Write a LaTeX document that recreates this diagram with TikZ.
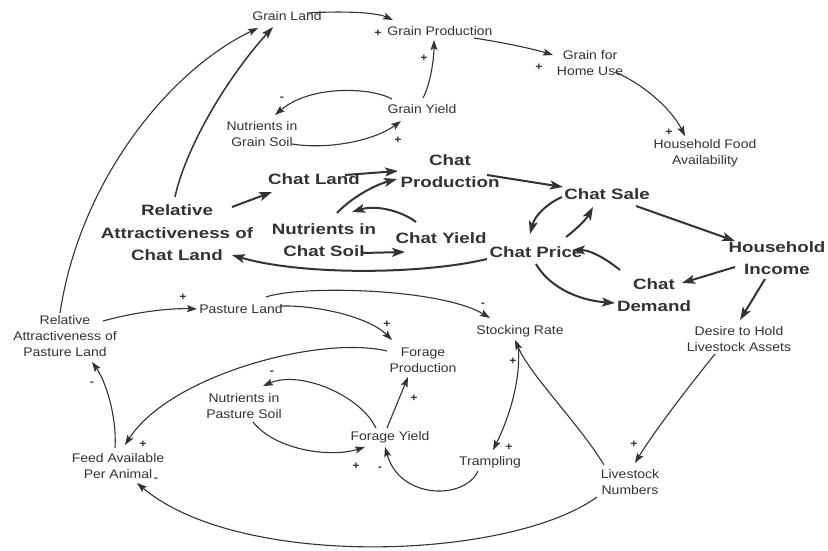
\documentclass[tikz,border=0pt]{standalone}
\usepackage{fontspec}
\setmainfont{Liberation Sans}
\newfontfamily\smf[FakeStretch=1.12]{Liberation Sans}
\newfontfamily\bgf[FakeStretch=1.25]{Liberation Sans}
\usetikzlibrary{arrows.meta,calc}
\definecolor{ink}{HTML}{333333}
\tikzset{
  sm/.style={font=\smf\fontsize{12.5}{16}\selectfont, align=center, text=ink, inner sep=0pt},
  bg/.style={font=\bgf\bfseries\fontsize{15}{22.5}\selectfont, align=center, text=ink, inner sep=0pt},
  sg/.style={font=\smf\bfseries\fontsize{11}{11}\selectfont, text=ink, inner sep=0pt},
  tarr/.style={draw=ink, line width=1.1pt, -{Stealth[length=10pt,width=7pt,inset=2pt]}},
  marr/.style={draw=ink, line width=1.5pt, -{Stealth[length=12pt,width=8pt,inset=2.5pt]}},
  barr/.style={draw=ink, line width=2pt, -{Stealth[length=13pt,width=9pt,inset=3pt]}},
}
\begin{document}
\begin{tikzpicture}[x=1pt,y=-1pt]
\useasboundingbox[fill=white] (0,0) rectangle (828,550);
% nodes
\node[sm] (gland) at (287,16) {Grain Land};
\node[sm] (gprod) at (440,31) {Grain Production};
\node[sm] (gfor) at (590,63) {Grain for\\Home Use};
\node[sm] (hfa) at (705,153) {Household Food\\Availability};
\node[sm] (gyield) at (422,109) {Grain Yield};
\node[sm] (ngs) at (262,134) {Nutrients in\\Grain Soil};
\node[bg] (cland) at (314,179) {Chat Land};
\node[bg] (cprod) at (450,171) {Chat\\Production};
\node[bg] (csale) at (607,194) {Chat Sale};
\node[bg] (racl) at (177,233) {Relative\\Attractiveness of\\Chat Land};
\node[bg] (ncs) at (324,240) {Nutrients in\\Chat Soil};
\node[bg] (cyield) at (441,238) {Chat Yield};
\node[bg] (cprice) at (536,252) {Chat Price};
\node[bg] (hinc) at (777,258) {Household\\Income};
\node[bg] (cdem) at (654,295) {Chat\\Demand};
\node[sm] (rapl) at (65,336) {Relative\\Attractiveness of\\Pasture Land};
\node[sm] (pland) at (241,309) {Pasture Land};
\node[sm] (srate) at (520,331) {Stocking Rate};
\node[sm] (fprod) at (423,360) {Forage\\Production};
\node[sm] (desire) at (739,339) {Desire to Hold\\Livestock Assets};
\node[sm] (nps) at (244,406) {Nutrients in\\Pasture Soil};
\node[sm] (fyield) at (390,437) {Forage Yield};
\node[sm] (feed) at (118,466) {Feed Available\\Per Animal};
\node[sm] (tramp) at (490,462) {Trampling};
\node[sm] (lnum) at (630,482) {Livestock\\Numbers};
% signs
\node[sg] (s1) at (378,33) {+};
\node[sg] (s2) at (424,58) {+};
\node[sg] (s3) at (282,99) {-};
\node[sg] (s4) at (398,140) {+};
\node[sg] (s5) at (539,67) {+};
\node[sg] (s6) at (669,132) {+};
\node[sg] (s7) at (183,297) {+};
\node[sg] (s8) at (92,384) {-};
\node[sg] (s9) at (272,373) {-};
\node[sg] (s10) at (143,444) {+};
\node[sg] (s11) at (156,480) {-};
\node[sg] (s12) at (483,305) {-};
\node[sg] (s13) at (387,324) {+};
\node[sg] (s14) at (414,398) {+};
\node[sg] (s15) at (356,466) {+};
\node[sg] (s16) at (380,469) {-};
\node[sg] (s17) at (513,361) {+};
\node[sg] (s18) at (509,447) {+};
\node[sg] (s19) at (634,444) {+};
% connectors
\draw[tarr] ($(gland)+(20,-3)$) .. controls (340,11) and (375,12) .. ($(gprod)+(-47,-11)$);
\draw[tarr] ($(gprod)+(34,7)$) .. controls (500,42) and (530,48) .. ($(gfor)+(-37,-8)$);
\draw[tarr] ($(gfor)+(25,9)$) .. controls (645,85) and (672,110) .. ($(hfa)+(-20,-17)$);
\draw[tarr] ($(gyield)+(1,-11)$) .. controls (430,85) and (434,60) .. ($(gprod)+(-6,9)$);
\draw[tarr] ($(gyield)+(-30,-10)$) .. controls (370,87) and (310,85) .. ($(ngs)+(13,-19)$);
\draw[tarr] ($(ngs)+(30,10)$) .. controls (330,150) and (375,140) .. ($(gyield)+(-21,12)$);
\draw[tarr] ($(rapl)+(-5,-23)$) .. controls (80,180) and (170,70) .. ($(gland)+(-29,12)$);
\draw[marr] ($(racl)+(-2,-36)$) .. controls (185,150) and (225,80) .. ($(gland)+(-14,11)$);
\draw[barr] ($(racl)+(55,-26)$) -- ($(cland)+(-42,13)$);
\draw[barr] ($(cland)+(31,-4)$) -- ($(cprod)+(-52,0)$);
\draw[barr] ($(ncs)+(13,-27)$) .. controls (352,197) and (375,185) .. ($(cprod)+(-53,8)$);
\draw[barr] ($(cyield)+(-25,-16)$) .. controls (400,210) and (375,205) .. ($(ncs)+(28,-28)$);
\draw[barr] ($(ncs)+(38,13)$) -- ($(cyield)+(-36,14)$);
\draw[barr] ($(cprice)+(-49,7)$) .. controls (420,275) and (300,275) .. ($(racl)+(55,22)$);
\draw[barr] ($(cprod)+(37,4)$) -- ($(csale)+(-44,-7)$);
\draw[barr] ($(csale)+(-45,3)$) .. controls (548,203) and (535,215) .. ($(cprice)+(-6,-18)$);
\draw[barr] ($(cprice)+(30,-15)$) .. controls (578,228) and (587,218) .. ($(csale)+(-14,13)$);
\draw[barr] ($(csale)+(29,12)$) -- ($(hinc)+(-42,-17)$);
\draw[barr] ($(hinc)+(-42,9)$) -- ($(cdem)+(28,-12)$);
\draw[barr] ($(cdem)+(-34,-25)$) .. controls (605,258) and (590,250) .. ($(cprice)+(36,-2)$);
\draw[barr] ($(cprice)+(0,12)$) .. controls (548,285) and (575,300) .. ($(cdem)+(-39,8)$);
\draw[barr] ($(hinc)+(-12,21)$) -- ($(desire)+(1,-19)$);
\draw[tarr] ($(desire)+(-24,15)$) .. controls (690,385) and (655,430) .. ($(lnum)+(5,-19)$);
\draw[tarr] ($(lnum)+(-26,-17)$) .. controls (580,425) and (530,375) .. ($(srate)+(-5,9)$);
\draw[tarr] ($(lnum)+(-33,15)$) .. controls (510,560) and (240,570) .. ($(feed)+(19,17)$);
\draw[tarr] ($(rapl)+(38,-15)$) .. controls (135,312) and (170,308) .. ($(pland)+(-44,0)$);
\draw[tarr] ($(pland)+(39,-3)$) .. controls (320,305) and (370,318) .. ($(fprod)+(-31,-20)$);
\draw[tarr] ($(pland)+(25,-12)$) .. controls (300,285) and (440,288) .. ($(srate)+(-30,-13)$);
\draw[tarr] ($(fprod)+(-36,-9)$) .. controls (320,335) and (170,375) .. ($(feed)+(7,-21)$);
\draw[tarr] ($(fyield)+(-3,-9)$) -- ($(fprod)+(-15,17)$);
\draw[tarr] ($(fyield)+(-14,-9)$) .. controls (360,395) and (300,370) .. ($(nps)+(19,-20)$);
\draw[tarr] ($(nps)+(9,16)$) .. controls (275,450) and (330,458) .. ($(fyield)+(-25,10)$);
\draw[tarr] ($(tramp)+(-12,9)$) .. controls (465,500) and (400,500) .. ($(fyield)+(-5,10)$);
\draw[tarr] ($(srate)+(-2,12)$) .. controls (522,380) and (508,420) .. ($(tramp)+(3,-12)$);
\draw[tarr] ($(feed)+(-3,-18)$) .. controls (117,415) and (105,380) .. ($(rapl)+(27,26)$);
\end{tikzpicture}
\end{document}
